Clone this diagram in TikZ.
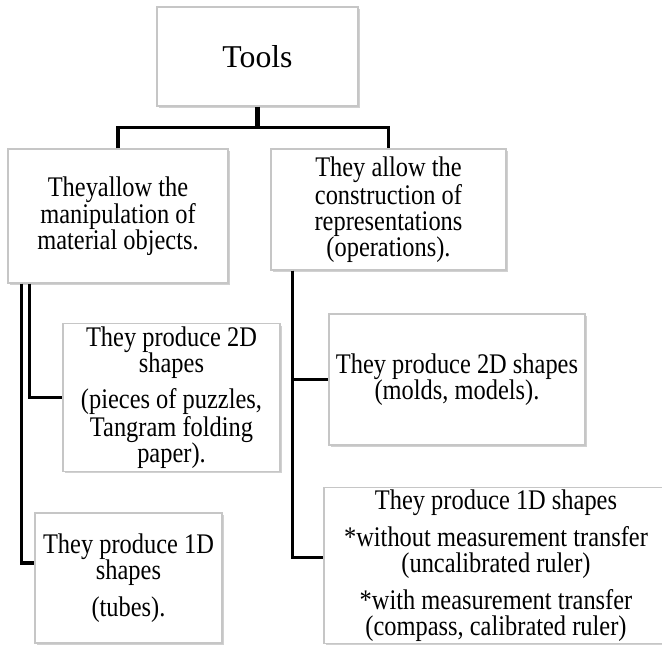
\documentclass[tikz,border=0pt]{standalone}
\usepackage{fontspec}
\setmainfont{Liberation Serif}
\newfontfamily\narrowserif[FakeStretch=0.86]{Liberation Serif}
\usetikzlibrary{calc,shadows}

\begin{document}
\begin{tikzpicture}[x=0.75pt, y=-0.75pt]
    \tikzset{toolbox/.style={draw=gray!45, line width=0.8pt, fill=white,
            drop shadow={shadow xshift=1.2pt, shadow yshift=-1.2pt,
            fill=gray!60, opacity=0.6},
            align=center, inner sep=2pt,
            font=\narrowserif\fontsize{21.3}{19.5}\selectfont},
        branch/.style={line width=2.9pt}
    }
    \useasboundingbox (0,0) rectangle (662,645);
    \clip (0,0) rectangle (662,645);
    % root and first level
    \node [toolbox, minimum width=150.75pt, minimum height=74.25pt,
        font=\rmfamily\fontsize{23.8}{26}\selectfont](tools)
        at (257.5,56.5) {Tools};
    \node [toolbox, minimum width=165pt, minimum height=100.5pt](manip)
        at (118,216) {Theyallow the\\manipulation of\\material objects.};
    \node [toolbox, minimum width=176.25pt, minimum height=90.75pt](constr)
        at (388.5,209.5) {They allow the\\construction of\\representations\\(operations).};
    % left column
    \node [toolbox, minimum width=162.75pt, minimum height=107.25pt](mtwo)
        at (171.5,397.5) {They produce 2D\\shapes\\[7pt](pieces of puzzles,\\Tangram folding\\paper).};
    \node [toolbox, minimum width=140.25pt, minimum height=97.5pt](mone)
        at (128.5,578) {They produce 1D\\shapes\\[8pt](tubes).};
    % right column
    \node [toolbox, minimum width=192pt, minimum height=98.25pt](ctwo)
        at (457,379.5) {They produce 2D shapes\\(molds, models).};
    \node [toolbox, minimum width=258pt, minimum height=116.25pt](cone)
        at (496,565.5) {They produce 1D shapes\\[7pt]*without measurement transfer\\(uncalibrated ruler)\\[7pt]*with measurement transfer\\(compass, calibrated ruler)};
    % trunk
    \coordinate (fork) at ($(tools.south)+(0,21)$);
    \draw [branch, line width=4.3pt] (tools.south) -- (fork);
    \draw [branch] (manip.north) |- (fork) -| (constr.north);
    % left branches
    \draw [branch] ($(manip.south west)+(22,0)$) |- (mtwo.west);
    \draw [branch] ($(manip.south west)+(14,0)$) |- ($(mone.west)+(0,-15)$);
    % right branches
    \coordinate (rtrunk) at ($(constr.south west)+(22,0)$);
    \draw [branch] (rtrunk) |- (ctwo.west);
    \draw [branch] (rtrunk) |- ($(cone.west)+(0,-8)$);
\end{tikzpicture}
\end{document}
